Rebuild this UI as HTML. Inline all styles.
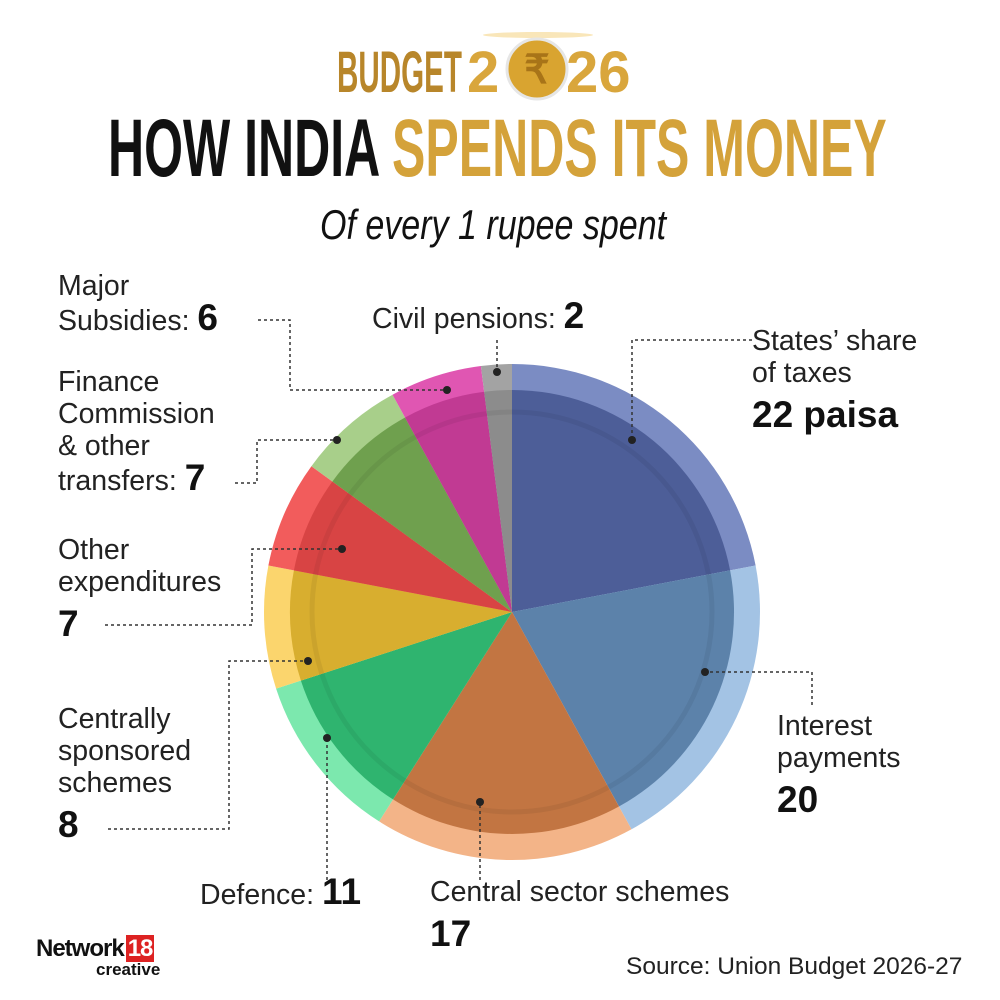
<!DOCTYPE html>
<html><head><meta charset="utf-8"><style>
html,body{margin:0;padding:0;background:#fff;}
#c{position:relative;width:1000px;height:1000px;overflow:hidden;font-family:"Liberation Sans",sans-serif;color:#111;}
.t{position:absolute;white-space:nowrap;}
.lab{font-size:28.5px;line-height:32px;color:#222;}
.lab b{font-size:37px;line-height:32px;font-weight:bold;color:#111;}
.lab b.s{position:relative;top:10px;}
.sq{transform-origin:left top;display:inline-block;}
</style></head><body><div id="c">
<svg width="1000" height="1000" style="position:absolute;left:0;top:0">
<g id="pie"></g>
<g fill="none" stroke="#333" stroke-width="1.5" stroke-dasharray="3,3">
<polyline points="258,320 290,320 290,390 447,390"/>
<polyline points="497,340 497,372"/>
<polyline points="752,340 632,340 632,440"/>
<polyline points="235,483 257,483 257,440 337,440"/>
<polyline points="105,625 252,625 252,549 342,549"/>
<polyline points="108,829 229,829 229,661 308,661"/>
<polyline points="327,880 327,738"/>
<polyline points="480,880 480,802"/>
<polyline points="812,705 812,672 705,672"/>
</g>
<g fill="#222">
<circle cx="447" cy="390" r="4"/><circle cx="497" cy="372" r="4"/><circle cx="632" cy="440" r="4"/>
<circle cx="337" cy="440" r="4"/><circle cx="342" cy="549" r="4"/><circle cx="308" cy="661" r="4"/>
<circle cx="327" cy="738" r="4"/><circle cx="480" cy="802" r="4"/><circle cx="705" cy="672" r="4"/>
</g>
<ellipse cx="538" cy="35" rx="55" ry="3" fill="#f5d68a" opacity="0.6"/>
<circle cx="537" cy="69" r="30" fill="#d9a430" stroke="#e6e6e6" stroke-width="3"/>
<text x="537" y="83" text-anchor="middle" font-family="Liberation Sans" font-weight="bold" font-size="40" fill="#a87418">₹</text>
</svg>
<div class="t" style="left:337px;top:44px;font-size:58px;line-height:58px;font-weight:bold;color:#b8862a;"><span class="sq" style="transform:scaleX(0.51)">BUDGET</span></div>
<div class="t" style="left:467px;top:44px;font-size:58px;line-height:58px;font-weight:bold;color:#d9a63c;">2</div>
<div class="t" style="left:566px;top:44px;font-size:58px;line-height:58px;font-weight:bold;color:#d9a63c;">26</div>
<div class="t" style="left:108px;top:108px;font-size:82px;line-height:82px;font-weight:bold;"><span class="sq" style="transform:scaleX(0.61)">HOW INDIA</span></div>
<div class="t" style="left:392px;top:108px;font-size:82px;line-height:82px;font-weight:bold;color:#d4a23a"><span class="sq" style="transform:scaleX(0.61)">SPENDS ITS MONEY</span></div>
<div class="t" style="left:320px;top:200px;font-size:42px;line-height:50px;font-style:italic;"><span class="sq" style="transform:scaleX(0.81)">Of every 1 rupee spent</span></div>

<div class="t lab" style="left:58px;top:270px">Major<br>Subsidies: <b>6</b></div>
<div class="t lab" style="left:372px;top:300px">Civil pensions: <b>2</b></div>
<div class="t lab" style="left:752px;top:325px">States’ share<br>of taxes<br><b class="s">22 paisa</b></div>
<div class="t lab" style="left:58px;top:366px">Finance<br>Commission<br>&amp; other<br>transfers: <b>7</b></div>
<div class="t lab" style="left:58px;top:534px">Other<br>expenditures<br><b class="s">7</b></div>
<div class="t lab" style="left:58px;top:703px">Centrally<br>sponsored<br>schemes<br><b class="s">8</b></div>
<div class="t lab" style="left:200px;top:876px">Defence: <b>11</b></div>
<div class="t lab" style="left:430px;top:876px">Central sector schemes<br><b class="s">17</b></div>
<div class="t lab" style="left:777px;top:710px">Interest<br>payments<br><b class="s">20</b></div>
<div class="t" style="left:36px;top:935px;font-size:24px;font-weight:bold;letter-spacing:-1px">Network<span style="background:#d22;color:#fff;padding:0 2px;margin-left:2px">18</span></div>
<div class="t" style="left:96px;top:960px;font-size:17px;font-weight:bold">creative</div>
<div class="t" style="left:626px;top:953px;font-size:24.5px;color:#222">Source: Union Budget 2026-27</div>
</div>
<script>
var cx=512,cy=612,R=248,r=222;
var d=[[22,'#7b8cc3','#4d5e98'],[20,'#a3c3e4','#5c82aa'],[17,'#f3b488','#c27542'],[11,'#7ce8ae','#2fb46f'],[8,'#fbd56d','#d8ae2f'],[7,'#f25c5c','#d84444'],[7,'#a8cf8a','#6fa04e'],[6,'#e056b2','#c13a93'],[2,'#a3a3a3','#8c8c8c']];
var g=document.getElementById('pie'),a=0,s='';
function p(rad,ang){var t=(ang-90)*Math.PI/180;return (cx+rad*Math.cos(t)).toFixed(1)+','+(cy+rad*Math.sin(t)).toFixed(1);}
d.forEach(function(e){var b=a+e[0]*3.6,l=(b-a)>180?1:0;
[[R,e[1]],[r,e[2]]].forEach(function(q){s+='<path d="M'+cx+','+cy+' L'+p(q[0],a)+' A'+q[0]+','+q[0]+' 0 '+l+' 1 '+p(q[0],b)+' Z" fill="'+q[1]+'"/>';});a=b;});
s+='<circle cx="'+cx+'" cy="'+cy+'" r="'+(r-22)+'" fill="none" stroke="#000" stroke-opacity="0.06" stroke-width="5"/>';
g.innerHTML=s;
</script>
</body></html>
